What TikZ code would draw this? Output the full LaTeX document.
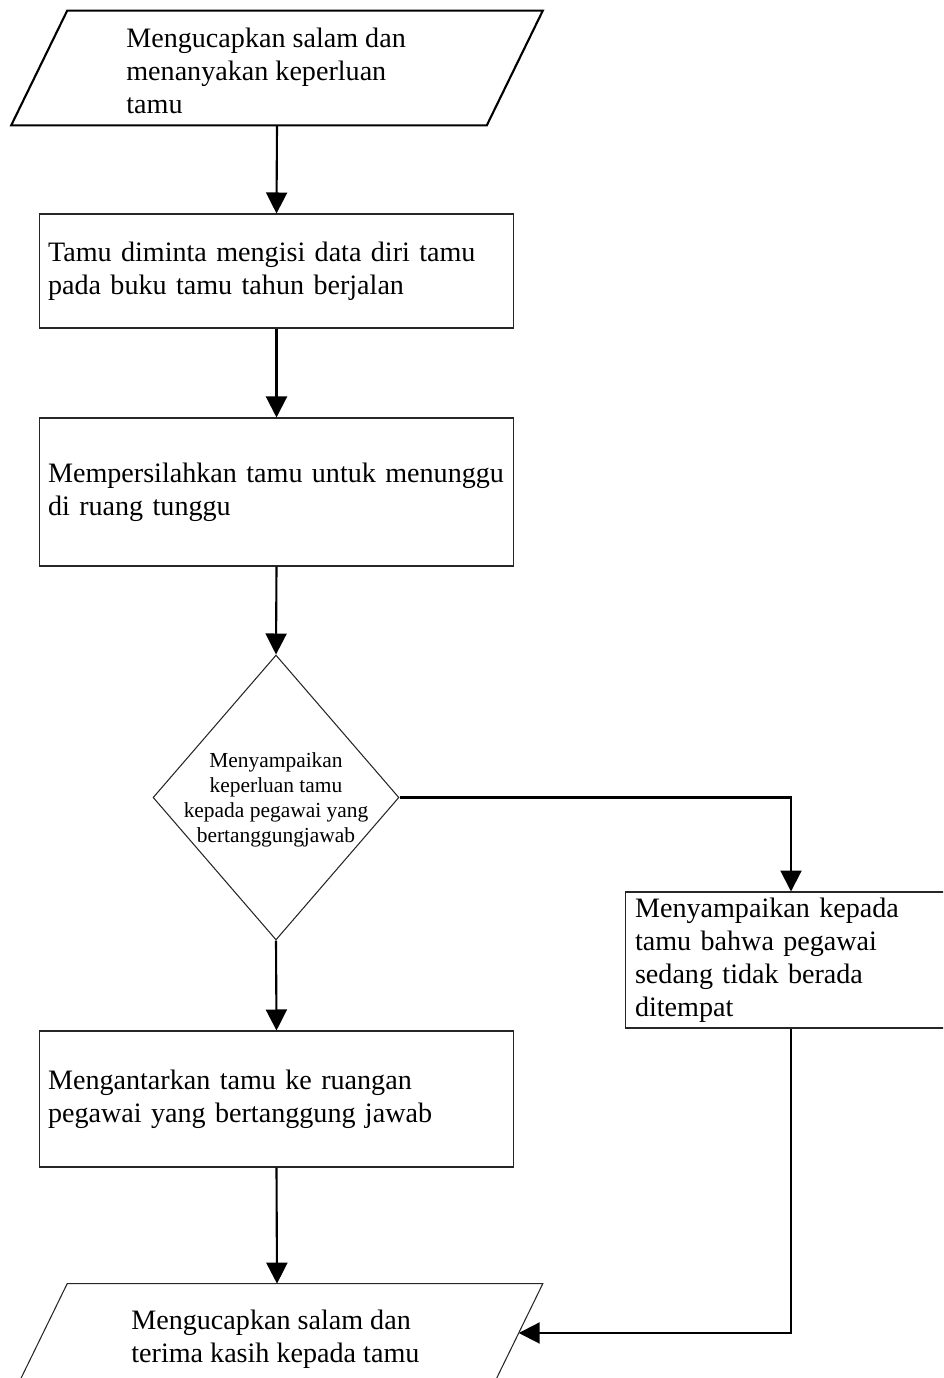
\documentclass[tikz,border=0pt]{standalone}
\usepackage{fontspec}
\setmainfont{Liberation Serif}
\usetikzlibrary{arrows.meta,calc,shapes.geometric}

\begin{document}
\begin{tikzpicture}[x=0.02cm, y=-0.02cm,
		proses/.style={draw=black!85, line width=0.6pt, rectangle, minimum width=9.5cm, text width=9.14cm, inner xsep=0.18cm, inner ysep=0pt, align=left, font=\fontsize{16}{18.8}\selectfont},
		bingkai/.style={minimum width=9.5cm, minimum height=2.28cm, inner sep=0pt},
		teks/.style={align=left, inner sep=0pt, font=\fontsize{16}{18.8}\selectfont},
		keputusan/.style={diamond, draw=black!85, line width=0.6pt, minimum width=4.92cm, minimum height=5.7cm, inner sep=0pt},
		kecil/.style={align=center, inner sep=0pt, font=\fontsize{12.2}{14.2}\selectfont},
		panah/.style={line width=1.2pt, -{Triangle[width=0.42cm, length=0.42cm]}}]
			%%%%% START %%%%%
			
			\useasboundingbox (0, 0) rectangle (943, 1378);
			\clip (0, 0) rectangle (943, 1378);
			
			% mulai
			\node[bingkai] (salam) at (277, 68) {};
			\draw[line width=1.2pt] ($(salam.north west)+(28,0)$) -- ($(salam.north east)+(28,0)$) -- ($(salam.south east)+(-28,0)$) -- ($(salam.south west)+(-28,0)$) -- cycle;
			\node[teks, anchor=west] (salam-teks) at (126, 71) {Mengucapkan salam dan\\menanyakan keperluan\\tamu};
			
			\node[proses, minimum height=2.28cm] (isi) at (276.5, 271) {Tamu diminta mengisi data diri tamu\\pada buku tamu tahun berjalan};
			\node[proses, minimum height=2.96cm] (tunggu) at (276.5, 492) {Mempersilahkan tamu untuk menunggu\\di ruang tunggu};
			
			% keputusan
			\node[keputusan] (sampai) at (276, 797.5) {};
			\node[kecil] (sampai-teks) at (276, 800) {Menyampaikan\\keperluan tamu\\kepada pegawai yang\\bertanggungjawab};
			
			\node[proses, minimum height=2.72cm] (antar) at (276.5, 1099) {Mengantarkan tamu ke ruangan\\pegawai yang bertanggung jawab};
			\node[proses, minimum width=6.64cm, text width=6.24cm, inner xsep=0.2cm, minimum height=2.72cm] (tolak) at (791, 960) {Menyampaikan kepada\\tamu bahwa pegawai\\sedang tidak berada\\ditempat};
			
			% selesai
			\node[bingkai] (selesai) at (277, 1341) {};
			\coordinate (selesai-ne) at ($(selesai.north east)+(28,0)$);
			\coordinate (selesai-se) at ($(selesai.south east)+(-28,0)$);
			\draw[draw=black!85, line width=0.6pt] ($(selesai.north west)+(28,0)$) -- (selesai-ne) -- (selesai-se) -- ($(selesai.south west)+(-28,0)$) -- cycle;
			\node[teks, anchor=west] (selesai-teks) at (131, 1339) {Mengucapkan salam dan\\terima kasih kepada tamu};
			\coordinate (masuk) at ($(selesai-ne)!0.43!(selesai-se)$);
			
			% alur
			\draw[panah] (salam.south) -- (isi.north);
			\draw[panah] (isi.south) -- (tunggu.north);
			\draw[panah] (tunggu.south) -- (sampai.north);
			\draw[panah] (sampai.south) -- (antar.north);
			\draw[panah] (sampai.east) -| (tolak.north);
			\draw[panah] (antar.south) -- (selesai.north);
			\draw[panah] (tolak.south) |- (masuk);
			
			%%%%% END %%%%%
\end{tikzpicture}
\end{document}
